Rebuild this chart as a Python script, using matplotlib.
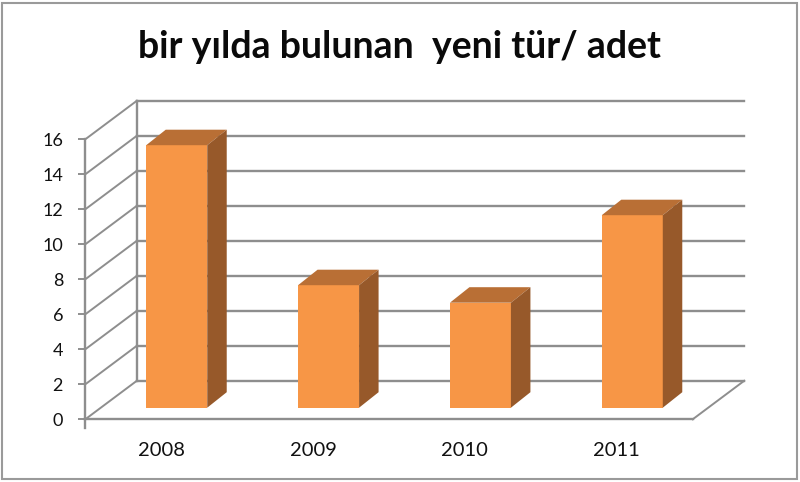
import numpy as np
import matplotlib
matplotlib.use('Agg')
import matplotlib.pyplot as plt
from matplotlib.patches import Polygon, Rectangle

# values
years = ['2008', '2009', '2010', '2011']
counts = [15, 7, 6, 11]
y_ticks = [0, 2, 4, 6, 8, 10, 12, 14, 16]
title = 'bir yılda bulunan  yeni tür/ adet'

W, H = 800, 482
GRID = '#8e8e8e'

# fake 3d depth, in category / value units
wall_dx, wall_dy = 51.5 / 151.85, 38.5 / 17.5
bar_dx, bar_dy = 15.5 / 151.85, 11.6 / 17.5
side_dx, side_dy = 19.5 / 151.85, 15.5 / 17.5
bar_w = 61 / 151.85

plt.rcParams['font.family'] = ['Lato', 'DejaVu Sans']

fig = plt.figure(figsize=(W / 100, H / 100), dpi=100, facecolor='white')
ax = fig.add_axes([85.3 / W, 1 - 419.3 / H, 607.4 / W, 280 / H])
ax.patch.set_visible(False)
ax.set_xlim(0, 4)
ax.set_ylim(0, 16)

# outer frame
fig.add_artist(Rectangle((2 / W, 1 - 479 / H), 795 / W, 476 / H, transform=fig.transFigure,
                         fill=False, edgecolor='#9a9a9a', linewidth=1.5))

# back wall grid and slanted side wall lines
for v in y_ticks:
    ax.plot([wall_dx, 4 + wall_dx], [v + wall_dy, v + wall_dy], color=GRID, lw=1.7,
            clip_on=False, zorder=1)
    ax.plot([0, wall_dx], [v, v + wall_dy], color=GRID, lw=1.4, clip_on=False, zorder=1)
ax.plot([wall_dx, wall_dx], [wall_dy, 16 + wall_dy], color=GRID, lw=1.7, clip_on=False, zorder=1)
ax.plot([4, 4 + wall_dx], [0, wall_dy], color=GRID, lw=1.4, clip_on=False, zorder=1)

# bars, front face + top + side
x = np.arange(len(years)) + 0.5
ax.bar(x + bar_dx, counts, width=bar_w, bottom=bar_dy, color='#F79646', zorder=3)
for xi, c in zip(x, counts):
    left = xi + bar_dx - bar_w / 2
    right = left + bar_w
    top = c + bar_dy
    ax.add_patch(Polygon([(left, top), (right, top), (right + side_dx, top + side_dy),
                          (left + side_dx, top + side_dy)], facecolor='#B96F35',
                         edgecolor='none', clip_on=False, zorder=3))
    ax.add_patch(Polygon([(right, bar_dy), (right + side_dx, bar_dy + side_dy),
                          (right + side_dx, top + side_dy), (right, top)], facecolor='#97592A',
                         edgecolor='none', clip_on=False, zorder=3))

for s in ['top', 'right']:
    ax.spines[s].set_visible(False)
for s in ['left', 'bottom']:
    ax.spines[s].set_color(GRID)
    ax.spines[s].set_linewidth(1.7)

ax.set_yticks(y_ticks)
ax.set_xticks(x)
ax.set_xticklabels(years)
ax.tick_params(axis='y', length=5, width=1.4, color=GRID, pad=11, labelsize=13, labelcolor='#111111')
ax.tick_params(axis='x', length=0, pad=16, labelsize=14.5, labelcolor='#111111')
ax.plot([0, 0], [0, -8.5 / 17.5], color=GRID, lw=1.7, clip_on=False)

fig.text(399 / W, 1 - 47 / H, title, ha='center', va='center', fontsize=27, fontweight='bold',
         color='#0a0a0a')

fig.savefig('out.png', dpi=100)
